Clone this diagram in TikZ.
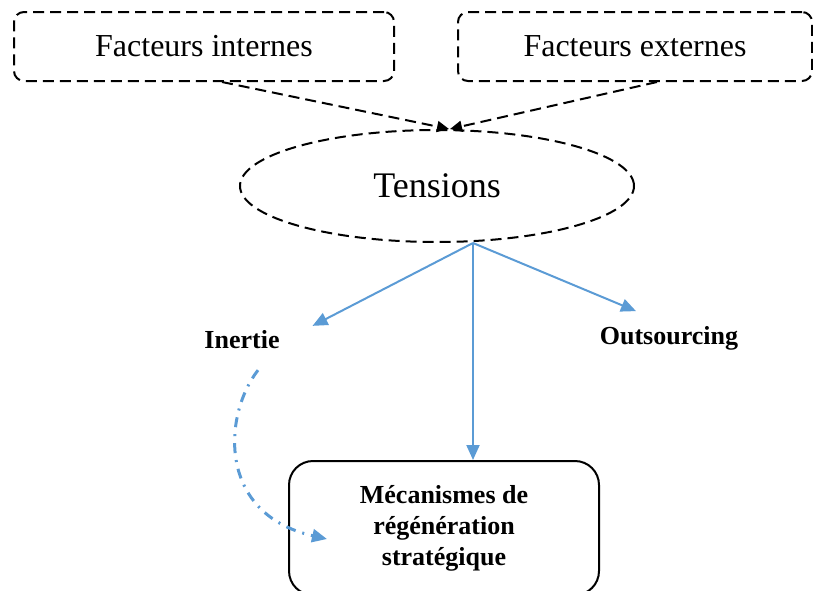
\documentclass[tikz,border=0pt]{standalone}
\usepackage{fontspec}
\setmainfont{Liberation Serif}
\usetikzlibrary{arrows.meta,shapes.geometric}
\definecolor{lienbleu}{RGB}{91,155,213}

\begin{document}
\begin{tikzpicture}[x=0.5pt, y=-0.5pt, line width=1pt,
  facteur/.style={draw, dash pattern=on 5.5pt off 3pt, rounded corners=5pt, minimum height=34.5pt, font=\fontsize{16}{19}\selectfont},
  issue/.style={inner sep=0pt, font=\fontsize{13}{15.5}\selectfont\bfseries},
  fleche noire/.style={-{Triangle[length=6pt,width=5.5pt]}, dash pattern=on 5.5pt off 3pt},
  fleche bleue/.style={-{Triangle[length=7.5pt,width=6.5pt]}, lienbleu}]
\useasboundingbox (0,0) rectangle (813,590);
\node[facteur, minimum width=190pt] (fi) at (204,46.5) {Facteurs internes};
\node[facteur, minimum width=177pt] (fe) at (635,46.5) {Facteurs externes};
\node[draw, ellipse, dash pattern=on 5.5pt off 3pt, inner sep=0pt, minimum width=197pt, minimum height=56pt, font=\fontsize{18}{21}\selectfont] (ten) at (437,186) {Tensions};
\node[issue] (ine) at (242,340) {Inertie};
\node[issue] (out) at (669,338) {Outsourcing};
\node[draw, rounded corners=12pt, minimum width=155pt, minimum height=67pt, align=center, font=\fontsize{13}{15.5}\selectfont\bfseries] (mec) at (444,528) {Mécanismes de\\régénération\\stratégique};

% vers les tensions
\draw[fleche noire] ([xshift=9pt]fi.south) -- ([xshift=6pt]ten.north);
\draw[fleche noire] ([xshift=11pt]fe.south) -- ([xshift=6.5pt]ten.north);

% issues
\draw[fleche bleue] ([xshift=18pt]ten.south) -- ([xshift=16pt,yshift=2pt]ine.north east);
\draw[fleche bleue] ([xshift=18pt]ten.south) -- ([xshift=-16.5pt,yshift=7pt]out.north);
\draw[fleche bleue] ([xshift=18pt]ten.south) -- ([xshift=14.5pt]mec.north);
\draw[fleche bleue, line width=1.5pt, dash pattern=on 5pt off 3.5pt on 1pt off 3.5pt] ([xshift=8pt,yshift=-10pt]ine.south) .. controls +(-35,45) and +(-110,-25) .. ([xshift=19.5pt,yshift=-5.5pt]mec.west);
\end{tikzpicture}
\end{document}
